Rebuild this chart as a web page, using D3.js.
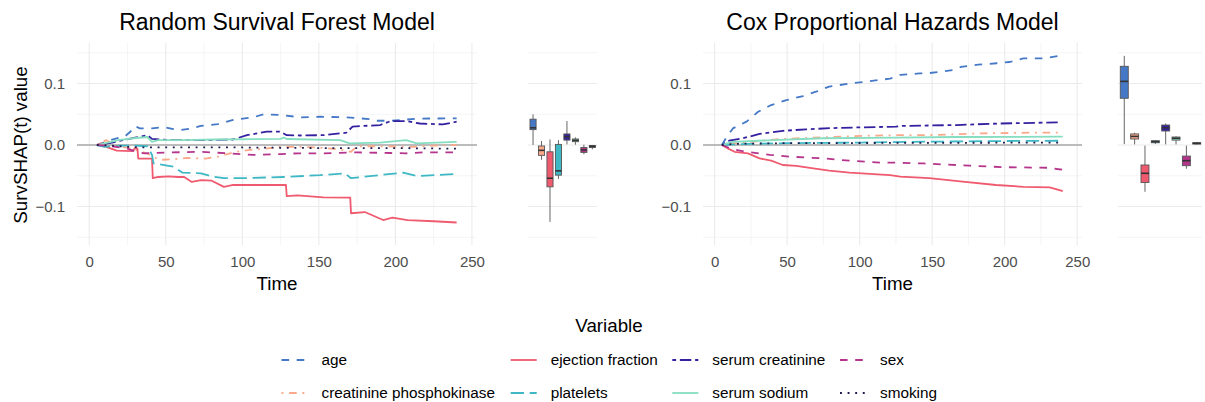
<!DOCTYPE html>
<html><head><meta charset="utf-8">
<script src="https://cdn.jsdelivr.net/npm/d3@7"></script>
<style>
html,body{margin:0;padding:0;background:#fff;}
svg text{font-family:"Liberation Sans",Arial,Helvetica,sans-serif;}
</style></head>
<body><svg id="c" width="1205" height="402"></svg>
<script>
// ---------- DATA ----------
const variables = ["age","creatinine phosphokinase","ejection fraction","platelets","serum creatinine","serum sodium","sex","smoking"];
const colors = ["#4579C7","#FBA98B","#EF5A6F","#3EB8C4","#3421A0","#86DEC0","#B5348C","#1E1A4D"];
const linetypes = ["44","1343","solid","73","2262","solid","44","13"];
const xTicks = [0,50,100,150,200,250];
const yTicks = [-0.1,0.0,0.1];
const yTickLabels = ["\u22120.1","0.0","0.1"];
const panelTitles = ["Random Survival Forest Model","Cox Proportional Hazards Model"];

// Random Survival Forest: [time, SurvSHAP(t)]
const rsfAge = [[5,0],[10,0.004],[14,0.008],[20,0.012],[23,0.0135],[27,0.022],[30,0.031],[33,0.027],[41,0.027],[49,0.029],[55,0.026],[60,0.0245],[67,0.027],[73,0.031],[84,0.034],[94,0.0407],[107,0.045],[114,0.05],[125,0.049],[138,0.045],[151,0.046],[168,0.045],[184,0.042],[188,0.0395],[196,0.0395],[205,0.041],[216,0.043],[240,0.0433]];
const rsfCpk = [[5,0],[8,0.004],[11,0.008],[15,0.002],[20,-0.002],[28,-0.006],[33,-0.01],[38,-0.014],[42,-0.02],[47,-0.024],[55,-0.023],[64,-0.021],[76,-0.022],[84,-0.019],[90,-0.015],[96,-0.011],[105,-0.008],[115,-0.006],[125,-0.003],[140,-0.003],[155,-0.005],[165,-0.008],[171,-0.011],[175,-0.002],[190,-0.002],[212,-0.003],[225,-0.001],[240,0.0]];
const rsfEf = [[5,0],[8,0.003],[12,-0.004],[18,-0.009],[28,-0.010],[30,-0.005],[31.5,-0.006],[32,-0.022],[41,-0.022],[41.5,-0.054],[45,-0.052],[52,-0.051],[58,-0.052],[62,-0.052],[67,-0.060],[73,-0.057],[80,-0.058],[88,-0.068],[94,-0.065],[107,-0.065],[125,-0.065],[128.5,-0.065],[129,-0.083],[136,-0.082],[153,-0.085],[170.5,-0.0855],[171,-0.111],[180,-0.109],[192,-0.122],[198,-0.118],[208,-0.122],[225,-0.124],[240,-0.126]];
const rsfPlatelets = [[5,0],[10,-0.003],[20,-0.001],[30,-0.001],[38,-0.002],[41,-0.016],[42,-0.030],[50,-0.033],[55,-0.035],[61,-0.045],[73,-0.046],[81,-0.0515],[88,-0.054],[100,-0.054],[127,-0.052],[151,-0.049],[167,-0.046],[171,-0.054],[178,-0.052],[205,-0.045],[214,-0.0505],[240,-0.047]];
const rsfSc = [[5,0],[15,0.004],[22,0.008],[30,0.012],[38,0.016],[41,0.010],[54,0.008],[75,0.008],[94,0.009],[103,0.016],[116,0.0217],[125,0.0217],[129,0.016],[138,0.0155],[153,0.016],[168,0.020],[172,0.030],[190,0.0325],[197,0.039],[207,0.039],[216,0.035],[231,0.0335],[240,0.038]];
const rsfSs = [[5,0],[12,0.004],[19,0.008],[29,0.011],[38,0.013],[41,0.005],[45,0.008],[61,0.008],[83,0.009],[125,0.010],[127,0.012],[129,0.0098],[164,0.008],[170,0.0027],[190,0.0038],[207,0.008],[214,0.0027],[240,0.005]];
const rsfSex = [[5,0],[15,-0.002],[25,-0.006],[32,-0.012],[36,-0.0135],[54,-0.012],[73,-0.011],[90,-0.0135],[107,-0.016],[125,-0.0147],[136,-0.0135],[153,-0.0135],[175,-0.012],[197,-0.013],[207,-0.0135],[218,-0.012],[240,-0.012]];
const rsfSmoking = [[5,0],[15,-0.001],[25,-0.003],[35,-0.004],[100,-0.004],[150,-0.005],[200,-0.005],[240,-0.006]];

// Cox Proportional Hazards: [time, SurvSHAP(t)]
const coxAge = [[5,0],[8,0.012],[12.6,0.027],[22,0.038],[30,0.054],[39,0.065],[49.5,0.073],[61,0.0797],[70,0.0867],[79,0.095],[93,0.100],[104.5,0.103],[121,0.108],[128,0.114],[141.5,0.1165],[148,0.117],[164.5,0.122],[170,0.127],[181.7,0.1306],[194.5,0.133],[203.5,0.135],[212.8,0.141],[226.6,0.141],[238,0.145]];
const coxCpk = [[5,0],[15,0.003],[29,0.006],[45,0.0098],[75,0.0125],[103,0.015],[125,0.016],[153,0.0163],[185,0.019],[217,0.020],[240,0.020]];
const coxEf = [[5,0],[9,-0.0054],[13.8,-0.011],[23,-0.0135],[31,-0.0217],[39,-0.0255],[47,-0.0325],[56.4,-0.034],[68,-0.038],[79,-0.0417],[93,-0.045],[107,-0.047],[121,-0.049],[128,-0.0515],[148,-0.054],[171,-0.0596],[194,-0.065],[213,-0.068],[231,-0.069],[236,-0.072],[240,-0.075]];
const coxPlatelets = [[5,0],[25,0.002],[50,0.003],[100,0.004],[150,0.0055],[200,0.0065],[240,0.007]];
const coxSc = [[5,0],[10,0.007],[19.5,0.011],[31,0.018],[47,0.023],[63,0.0255],[81.7,0.0276],[102.5,0.0288],[125,0.0298],[127.7,0.031],[166.8,0.0325],[196.7,0.035],[238,0.0369]];
const coxSs = [[5,0],[12,0.005],[40,0.008],[75,0.011],[125,0.012],[167,0.013],[240,0.0135]];
const coxSex = [[5,0],[12.6,-0.007],[22,-0.011],[38,-0.016],[52,-0.019],[75,-0.0217],[93,-0.0255],[114,-0.0287],[123,-0.0287],[144,-0.030],[176,-0.0336],[199,-0.036],[231,-0.037],[236,-0.039],[240,-0.040]];
const coxSmoking = [[5,0],[15,0.002],[50,0.003],[150,0.0035],[240,0.004]];

// Boxplot stats per variable: [lower whisker, Q1, median, Q3, upper whisker]
const rsfBox = [[0.0,0.025,0.028,0.042,0.050],[-0.024,-0.0168,-0.0087,-0.0016,0.0065],[-0.125,-0.068,-0.054,-0.011,0.009],[-0.055,-0.049,-0.042,0.001,0.008],[0.001,0.008,0.0135,0.018,0.039],[0.0005,0.0054,0.0076,0.0098,0.0125],[-0.015,-0.012,-0.008,-0.004,0.0005],[-0.007,-0.004,-0.002,-0.001,0.0]];
const coxBox = [[0.0015,0.076,0.1035,0.128,0.145],[0.001,0.0098,0.014,0.018,0.020],[-0.076,-0.061,-0.046,-0.0325,-0.001],[0.0016,0.0037,0.0054,0.007,0.008],[0.001,0.0228,0.028,0.0325,0.035],[0.001,0.008,0.011,0.013,0.014],[-0.0385,-0.0336,-0.0255,-0.018,-0.001],[0.001,0.0016,0.0027,0.0037,0.005]];

const rsfSeries = [rsfAge,rsfCpk,rsfEf,rsfPlatelets,rsfSc,rsfSs,rsfSex,rsfSmoking];
const coxSeries = [coxAge,coxCpk,coxEf,coxPlatelets,coxSc,coxSs,coxSex,coxSmoking];

// ---------- DRAW ----------
const svg = d3.select("#c");
const LW = 1.8, DU = 1.9;
function dash(lt){ if(lt==="solid") return null; return lt.split("").map(c=>(+c)*DU).join(","); }

const y = d3.scaleLinear().domain([-0.1626,0.1659]).range([245,43]);
const gridY = [-0.15,-0.1,-0.05,0,0.05,0.1,0.15];
const majorY = [-0.1,0,0.1];

function linePanel(x0,x1,series,title){
  const x = d3.scaleLinear().domain([-8,253.3]).range([x0,x1]);
  const g = svg.append("g");
  const gx = d3.range(0,251,25);
  g.selectAll(null).data(gx).enter().append("line")
    .attr("x1",d=>x(d)).attr("x2",d=>x(d)).attr("y1",43).attr("y2",245)
    .attr("stroke","#EBEBEB").attr("stroke-width",d=>d%50===0?1.1:0.55);
  g.selectAll(null).data(gridY).enter().append("line")
    .attr("x1",x0).attr("x2",x1).attr("y1",d=>y(d)).attr("y2",d=>y(d))
    .attr("stroke","#EBEBEB").attr("stroke-width",d=>majorY.some(m=>Math.abs(m-d)<1e-9)?1.1:0.55);
  g.append("line").attr("x1",x0).attr("x2",x1).attr("y1",y(0)).attr("y2",y(0))
    .attr("stroke","#A9A9A9").attr("stroke-width",1.6);
  const line = d3.line().x(d=>x(d[0])).y(d=>y(d[1]));
  series.forEach((s,i)=>{
    g.append("path").attr("d",line(s)).attr("fill","none")
      .attr("stroke",colors[i]).attr("stroke-width",LW)
      .attr("stroke-dasharray",dash(linetypes[i])).attr("stroke-linejoin","round");
  });
  const ax = g.append("g").attr("transform","translate(0,245)")
    .call(d3.axisBottom(x).tickValues(xTicks).tickSize(0).tickPadding(11.5).tickFormat(d3.format("d")));
  ax.select(".domain").remove();
  ax.selectAll("text").attr("fill","#4D4D4D").style("font-size","15px").style("font-family","'Liberation Sans',Arial,sans-serif");
  const ay = g.append("g").attr("transform",`translate(${x0},0)`)
    .call(d3.axisLeft(y).tickValues(yTicks).tickSize(0).tickPadding(12).tickFormat((d,i)=>yTickLabels[i]));
  ay.select(".domain").remove();
  ay.selectAll("text").attr("fill","#4D4D4D").style("font-size","15px").style("font-family","'Liberation Sans',Arial,sans-serif");
  g.append("text").attr("x",(x0+x1)/2).attr("y",30).attr("text-anchor","middle")
    .style("font-size","23px").attr("fill","#000").text(title);
  g.append("text").attr("x",(x0+x1)/2).attr("y",290).attr("text-anchor","middle")
    .style("font-size","18.75px").attr("fill","#000").text("Time");
}

function boxPanel(x0,x1,bx0,bx1,stats,bwFrac){
  const g = svg.append("g");
  g.selectAll(null).data(gridY).enter().append("line")
    .attr("x1",x0).attr("x2",x1).attr("y1",d=>y(d)).attr("y2",d=>y(d))
    .attr("stroke","#EBEBEB").attr("stroke-width",d=>majorY.some(m=>Math.abs(m-d)<1e-9)?1.1:0.55);
  const xb = d3.scaleBand().domain(variables).range([bx0,bx1]).padding(0);
  const bw = xb.bandwidth()*bwFrac;
  variables.forEach((v,i)=>{
    const s = stats[i], cx = xb(v)+xb.bandwidth()/2;
    g.append("line").attr("x1",cx).attr("x2",cx).attr("y1",y(s[4])).attr("y2",y(s[3])).attr("stroke","#666").attr("stroke-width",1);
    g.append("line").attr("x1",cx).attr("x2",cx).attr("y1",y(s[1])).attr("y2",y(s[0])).attr("stroke","#666").attr("stroke-width",1);
    g.append("rect").attr("x",cx-bw/2).attr("width",bw).attr("y",y(s[3])).attr("height",Math.max(0.5,y(s[1])-y(s[3])))
      .attr("fill",colors[i]).attr("stroke","#555").attr("stroke-width",0.9);
    g.append("line").attr("x1",cx-bw/2).attr("x2",cx+bw/2).attr("y1",y(s[2])).attr("y2",y(s[2])).attr("stroke","#333").attr("stroke-width",1.6);
  });
}

linePanel(77,477,rsfSeries,panelTitles[0]);
boxPanel(528,597,528.8,596.6,rsfBox,0.72);
linePanel(703,1082,coxSeries,panelTitles[1]);
boxPanel(1118,1202,1119.1,1201.9,coxBox,0.77);

svg.append("text").attr("transform","translate(27,145) rotate(-90)").attr("text-anchor","middle")
  .style("font-size","18.75px").attr("fill","#000").text("SurvSHAP(t) value");

svg.append("text").attr("x",609).attr("y",332).attr("text-anchor","middle")
  .style("font-size","18.75px").attr("fill","#000").text("Variable");
const legCols = [281.5,510.7,672.3,840];
const legRows = [360,393];
variables.forEach((v,i)=>{
  const col = Math.floor(i/2), row = i%2;
  const lx = legCols[col], ly = legRows[row];
  svg.append("line").attr("x1",lx).attr("x2",lx+26).attr("y1",ly).attr("y2",ly)
    .attr("stroke",colors[i]).attr("stroke-width",LW).attr("stroke-dasharray",dash(linetypes[i]));
  svg.append("text").attr("x",lx+40).attr("y",ly+5.3).style("font-size","15.3px").attr("fill","#000").text(v);
});
</script></body></html>
